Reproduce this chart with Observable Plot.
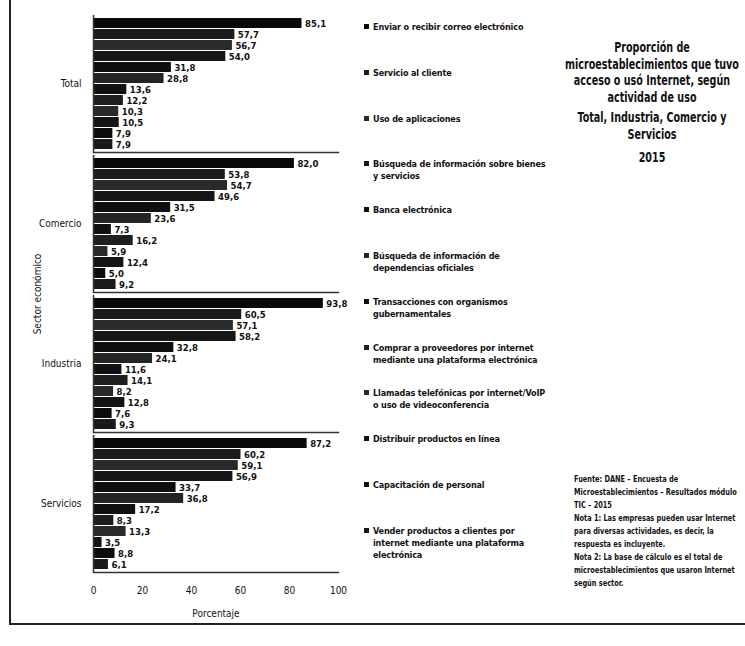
<!DOCTYPE html>
<html>
<head>
<meta charset="utf-8">
<script src="https://cdn.jsdelivr.net/npm/d3@7"></script>
<script src="https://cdn.jsdelivr.net/npm/@observablehq/plot@0.6"></script>
<style>
  html, body { margin: 0; padding: 0; background: #fff; }
  #wrap { position: relative; width: 745px; height: 646px; overflow: hidden; font-family: "DejaVu Sans Condensed", "Liberation Sans", Arial, sans-serif; color: #111; }
  #frame { position: absolute; left: 9px; top: -2px; width: 740px; height: 627px; border-left: 2px solid #222; border-bottom: 2px solid #222; box-sizing: border-box; }
  #chart { position: absolute; left: 0; top: 0; }
  #legend { position: absolute; left: 364px; top: 0; width: 190px; }
  .item { position: absolute; left: 0; width: 195px; font-size: 9px; font-weight: bold; line-height: 12px; padding-left: 9px; box-sizing: border-box; letter-spacing: -0.15px; white-space: pre; }
  .sw { position: absolute; left: 0; top: 3px; width: 5px; height: 5px; }
  #title { position: absolute; left: 532px; top: 39px; width: 240px; text-align: center; font-weight: bold; font-size: 13.5px; line-height: 16.5px; white-space: nowrap; transform: scaleX(0.79); transform-origin: 120px 0; }
  #title .sub { margin-top: 4px; }
  #notes { position: absolute; left: 574px; top: 472px; font-size: 9.5px; font-weight: bold; line-height: 13px; white-space: nowrap; transform: scaleX(0.77); transform-origin: 0 0; }
</style>
</head>
<body>
<div id="wrap">
  <div id="frame"></div>
  <div id="chart"></div>
  <div id="legend"></div>
  <div id="title">
    <div>Proporción de<br>microestablecimientos que tuvo<br>acceso o usó Internet, según<br>actividad de uso</div>
    <div class="sub">Total, Industria, Comercio y<br>Servicios</div>
    <div class="sub" style="margin-top:7px">2015</div>
  </div>
  <div id="notes">Fuente: DANE – Encuesta de<br>Microestablecimientos – Resultados módulo<br>TIC – 2015<br>Nota 1: Las empresas pueden usar Internet<br>para diversas actividades, es decir, la<br>respuesta es incluyente.<br>Nota 2: La base de cálculo es el total de<br>microestablecimientos que usaron Internet<br>según sector.</div>
</div>
<script>
const sectors = ["Total", "Comercio", "Industria", "Servicios"];
const activities = [
  "Enviar o recibir correo electrónico",
  "Servicio al cliente",
  "Uso de aplicaciones",
  "Búsqueda de información sobre bienes y servicios",
  "Banca electrónica",
  "Búsqueda de información de dependencias oficiales",
  "Transacciones con organismos gubernamentales",
  "Comprar a proveedores por internet mediante una plataforma electrónica",
  "Llamadas telefónicas por internet/VoIP o uso de videoconferencia",
  "Distribuir productos en línea",
  "Capacitación de personal",
  "Vender productos a clientes por internet mediante una plataforma electrónica"
];
const legendLabels = [
  "Enviar o recibir correo electrónico",
  "Servicio al cliente",
  "Uso de aplicaciones",
  "Búsqueda de información sobre bienes\ny servicios",
  "Banca electrónica",
  "Búsqueda de información de\ndependencias oficiales",
  "Transacciones con organismos\ngubernamentales",
  "Comprar a proveedores por internet\nmediante una plataforma electrónica",
  "Llamadas telefónicas por internet/VoIP\no uso de videoconferencia",
  "Distribuir productos en línea",
  "Capacitación de personal",
  "Vender productos a clientes por\ninternet mediante una plataforma\nelectrónica"
];
const totalValues     = [85.1, 57.7, 56.7, 54.0, 31.8, 28.8, 13.6, 12.2, 10.3, 10.5, 7.9, 7.9];
const comercioValues  = [82.0, 53.8, 54.7, 49.6, 31.5, 23.6, 7.3, 16.2, 5.9, 12.4, 5.0, 9.2];
const industriaValues = [93.8, 60.5, 57.1, 58.2, 32.8, 24.1, 11.6, 14.1, 8.2, 12.8, 7.6, 9.3];
const serviciosValues = [87.2, 60.2, 59.1, 56.9, 33.7, 36.8, 17.2, 8.3, 13.3, 3.5, 8.8, 6.1];
const xTicks = [0, 20, 40, 60, 80, 100];
const barColors = ["#0a0a0a", "#1c1c1c", "#2b2b2b", "#161616", "#0f0f0f", "#242424", "#111111", "#1e1e1e", "#2a2a2a", "#141414", "#0c0c0c", "#1a1a1a"];

const seriesBySector = [totalValues, comercioValues, industriaValues, serviciosValues];
const rows = sectors.flatMap((s, i) => activities.map((a, j) => ({sector: s, activity: a, value: seriesBySector[i][j]})));
const fmt = v => v.toFixed(1).replace(".", ",");

const chart = Plot.plot({
  width: 362,
  height: 632,
  marginLeft: 93,
  marginRight: 24,
  marginTop: 14,
  marginBottom: 60,
  style: {fontFamily: '"DejaVu Sans Condensed", "Liberation Sans", Arial, sans-serif', fontSize: "10px", color: "#111", background: "transparent", overflow: "visible"},
  x: {domain: [0, 100], ticks: xTicks, tickSize: 0, tickPadding: 14, label: "Porcentaje", labelAnchor: "center", labelArrow: "none", labelOffset: 44},
  y: {domain: activities, axis: null, paddingInner: 0.06, paddingOuter: 0.1},
  fy: {domain: sectors, axis: "left", label: "Sector económico", labelAnchor: "center", labelOffset: 60, tickSize: 0, tickPadding: 12, padding: 0.025},
  color: {domain: activities, range: barColors},
  marks: [
    Plot.barX(rows, {x: "value", y: "activity", fy: "sector", fill: "activity"}),
    Plot.text(rows, {x: "value", y: "activity", fy: "sector", text: d => fmt(d.value), dx: 3, textAnchor: "start", fontWeight: "bold", fontSize: 9.5, fill: "#111", stroke: "white", strokeWidth: 2, paintOrder: "stroke"}),
    Plot.frame({anchor: "bottom", stroke: "#333", strokeWidth: 1.5}),
    Plot.ruleX([0], {stroke: "#333", strokeWidth: 1.5})
  ]
});
document.getElementById("chart").appendChild(chart);

const legend = document.getElementById("legend");
legendLabels.forEach((a, i) => {
  const div = document.createElement("div");
  div.className = "item";
  div.style.top = (21 + i * 45.8) + "px";
  const sw = document.createElement("span");
  sw.className = "sw";
  sw.style.background = barColors[i];
  div.appendChild(sw);
  div.appendChild(document.createTextNode(a));
  legend.appendChild(div);
});
</script>
</body>
</html>
